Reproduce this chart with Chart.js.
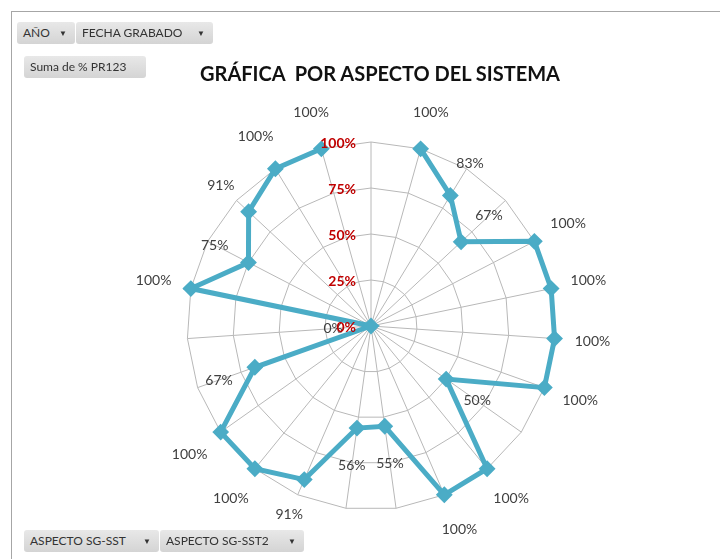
<!DOCTYPE html>
<html>
<head>
<meta charset="utf-8">
<script src="https://cdn.jsdelivr.net/npm/chart.js@4"></script>
<style>
  body { margin: 0; background: #fff; font-family: Lato, "Open Sans", sans-serif; }
  #wrap { position: relative; width: 720px; height: 559px; overflow: hidden; }
  #frame { position: absolute; left: 11px; top: 11px; width: 760px; height: 600px; border: 1px solid #a6a6a6; box-sizing: border-box; }
  canvas { position: absolute; left: 0; top: 0; }
  .btn { position: absolute; height: 22px; line-height: 22px; font-size: 12px; color: #333;
         background: linear-gradient(#e8e8e8, #d4d4d4); border-radius: 3px; padding: 0 6px; box-sizing: border-box; white-space: nowrap; }
  .btn .arr { font-size: 8px; position: absolute; right: 8px; top: 0; }
  #title { position: absolute; left: 0; width: 760px; top: 61px; text-align: center; font-weight: bold; font-size: 20px; color: #111; }
</style>
</head>
<body>
<div id="wrap">
  <div id="frame"></div>
  <canvas id="radar" width="720" height="559"></canvas>
  <div class="btn" style="left:17px;top:22px;width:58px;">AÑO<span class="arr">▼</span></div>
  <div class="btn" style="left:76px;top:22px;width:137px;">FECHA GRABADO<span class="arr">▼</span></div>
  <div class="btn" style="left:24px;top:56px;width:122px;">Suma de % PR123</div>
  <div id="title">GRÁFICA&nbsp;&nbsp;POR ASPECTO DEL SISTEMA</div>
  <div class="btn" style="left:24px;top:530px;width:135px;">ASPECTO SG-SST<span class="arr">▼</span></div>
  <div class="btn" style="left:160px;top:530px;width:144px;">ASPECTO SG-SST2<span class="arr">▼</span></div>
</div>
<script>
// categories (names hidden in the pivot chart)
const aspects = ["A1", "A2", "A3", "A4", "A5", "A6", "A7", "A8", "A9", "A10", "A11", "A12",
                 "A13", "A14", "A15", "A16", "A17", "A18", "A19", "A20", "A21", "A22", "A23"];
// % PR123 per aspect, first one is empty
const pr123 = [null, 100, 83, 67, 100, 100, 100, 100, 50, 100, 100, 55,
               56, 91, 100, 100, 67, 0, 100, 75, 91, 100, 100];
const tickValues = [0, 25, 50, 75, 100];

const lineColor = "#4bacc6";

// value labels pushed outward along each spoke
const valueLabels = {
  id: "valueLabels",
  afterDatasetsDraw(chart) {
    const ctx = chart.ctx;
    const scale = chart.scales.r;
    const meta = chart.getDatasetMeta(0);
    ctx.save();
    ctx.font = "14px Lato, 'Open Sans', sans-serif";
    ctx.fillStyle = "#404040";
    ctx.textAlign = "center";
    ctx.textBaseline = "middle";
    meta.data.forEach((pt, i) => {
      const v = pr123[i];
      if (v === null) return;
      const a = scale.getIndexAngle(i) - Math.PI / 2;
      const x = pt.x + Math.cos(a) * 38;
      const y = pt.y + Math.sin(a) * 38;
      ctx.fillText(v + "%", x, y);
    });
    ctx.restore();
  }
};

// red scale labels just left of the top spoke
const scaleLabels = {
  id: "scaleLabels",
  afterDraw(chart) {
    const ctx = chart.ctx;
    const scale = chart.scales.r;
    ctx.save();
    ctx.font = "bold 14px Lato, 'Open Sans', sans-serif";
    ctx.fillStyle = "#c00000";
    ctx.textAlign = "right";
    ctx.textBaseline = "middle";
    tickValues.forEach(t => {
      const p = scale.getPointPositionForValue(0, t);
      ctx.fillText(t + "%", p.x - 15, p.y + 1);
    });
    ctx.restore();
  }
};

new Chart(document.getElementById("radar"), {
  type: "radar",
  data: {
    labels: aspects,
    datasets: [{
      label: "Suma de % PR123",
      data: pr123,
      borderColor: lineColor,
      backgroundColor: lineColor,
      borderWidth: 5,
      fill: false,
      spanGaps: false,
      pointStyle: "rectRot",
      pointRadius: 7,
      pointBorderWidth: 2,
      pointBackgroundColor: lineColor,
      pointBorderColor: lineColor
    }]
  },
  options: {
    responsive: false,
    animation: false,
    layout: { padding: { left: 187, right: 165, top: 142, bottom: 49 } },
    plugins: {
      legend: { display: false },
      tooltip: { enabled: false }
    },
    scales: {
      r: {
        min: 0,
        max: 100,
        ticks: { stepSize: 25, display: false },
        grid: { color: "#b8b8b8", lineWidth: 1 },
        angleLines: { color: "#b8b8b8", lineWidth: 1 },
        pointLabels: { display: false }
      }
    }
  },
  plugins: [valueLabels, scaleLabels]
});
</script>
</body>
</html>
